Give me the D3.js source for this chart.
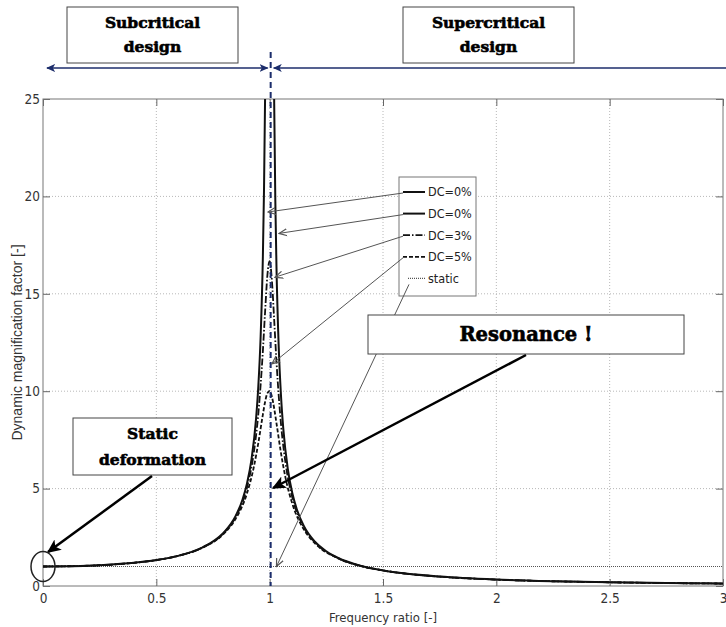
<!DOCTYPE html>
<meta charset="utf-8">
<style>
  body { margin: 0; background: #fff; }
  .tick text { font: 13.5px "Liberation Sans Narrow", "DejaVu Sans Condensed", Arial, sans-serif; fill: #333; }
  .tick line { stroke: #666; }
  .domain { stroke: none; }
  .grid line { stroke: #b8b8b8; stroke-dasharray: 1,2; }
  .axis-label { font: 13px "Liberation Sans Narrow", "DejaVu Sans Condensed", Arial, sans-serif; fill: #333; }
  .ylabel { font: 14px "Liberation Sans", Arial, sans-serif; fill: #333; }
  .legend text { font: 12.5px "Liberation Sans Narrow", "DejaVu Sans Condensed", Arial, sans-serif; fill: #222; }
  .note { font-family: "DejaVu Serif", "Liberation Serif", serif; font-weight: bold; fill: #000; stroke: #000; stroke-width: 0.6px; text-anchor: middle; }
  .box { fill: #fff; stroke: #444; stroke-width: 1; }
</style>
<svg width="726" height="627"></svg>
<script src="https://d3js.org/d3.v7.min.js"></script>
<script>

  // frequency ratio / magnification values
  var undampedLeftX = [0, 0.1, 0.2, 0.3, 0.4, 0.5, 0.6, 0.7, 0.75, 0.8, 0.85, 0.88, 0.9, 0.92, 0.94, 0.95, 0.96, 0.97, 0.975, 0.98, 0.985];
  var undampedLeftY = [1, 1.01, 1.04, 1.10, 1.19, 1.33, 1.56, 1.96, 2.29, 2.78, 3.60, 4.43, 5.26, 6.51, 8.59, 10.26, 12.76, 16.9, 20.3, 25.3, 33.6];

  var undampedRightX = [1.015, 1.02, 1.025, 1.03, 1.04, 1.05, 1.06, 1.08, 1.1, 1.12, 1.15, 1.2, 1.25, 1.3, 1.4, 1.5, 1.6, 1.75, 2, 2.25, 2.5, 2.75, 3];
  var undampedRightY = [33.1, 24.75, 19.75, 16.4, 12.25, 9.76, 8.09, 6.01, 4.76, 3.93, 3.10, 2.27, 1.78, 1.45, 1.04, 0.80, 0.64, 0.485, 0.333, 0.246, 0.19, 0.152, 0.125];

  var dampedX = [0, 0.2, 0.4, 0.5, 0.6, 0.7, 0.8, 0.85, 0.9, 0.93, 0.95, 0.97, 0.98, 0.99, 1, 1.01, 1.02, 1.03, 1.05, 1.07, 1.1, 1.15, 1.2, 1.3, 1.4, 1.5, 1.75, 2, 2.5, 3];
  var dc3Y = [1, 1.04, 1.19, 1.33, 1.56, 1.95, 2.75, 3.54, 5.06, 6.84, 8.85, 12.06, 14.11, 15.96, 16.67, 15.66, 13.64, 11.53, 8.31, 6.31, 4.54, 3.03, 2.24, 1.44, 1.04, 0.80, 0.48, 0.33, 0.19, 0.125];
  var dc5Y = [1, 1.04, 1.19, 1.33, 1.56, 1.95, 2.71, 3.45, 4.76, 6.10, 7.35, 8.80, 9.46, 9.90, 10.0, 9.71, 9.11, 8.36, 6.82, 5.55, 4.22, 2.92, 2.19, 1.43, 1.03, 0.80, 0.48, 0.33, 0.19, 0.125];

  var staticX = [0, 3];
  var staticY = [1, 1];

  var legendNames = ["DC=0%", "DC=0%", "DC=3%", "DC=5%", "static"];
  var xTicks = [0, 0.5, 1, 1.5, 2, 2.5, 3];
  var yTicks = [0, 5, 10, 15, 20, 25];

  var series = [
    {name: legendNames[0], xs: undampedLeftX, ys: undampedLeftY, dash: null, w: 2, c: "#111"},
    {name: legendNames[1], xs: undampedRightX, ys: undampedRightY, dash: null, w: 2, c: "#111"},
    {name: legendNames[2], xs: dampedX, ys: dc3Y, dash: "7,2,1.5,2", w: 1.8, c: "#111"},
    {name: legendNames[3], xs: dampedX, ys: dc5Y, dash: "4,2", w: 1.8, c: "#111"},
    {name: legendNames[4], xs: staticX, ys: staticY, dash: "1,1", w: 1.2, c: "#555"}
  ];

  var svg = d3.select("svg"),
      pLeft = 43, pRight = 723, pTop = 99, pBottom = 586;

  var x = d3.scaleLinear().domain([0, 3]).range([pLeft, pRight]);
  var y = d3.scaleLinear().domain([0, 25]).range([pBottom, pTop]);

  var defs = svg.append("defs");
  defs.append("clipPath").attr("id", "plot")
      .append("rect").attr("x", pLeft).attr("y", pTop).attr("width", pRight - pLeft).attr("height", pBottom - pTop);

  function marker(id, color, size, open) {
    var m = defs.append("marker").attr("id", id)
        .attr("viewBox", "0 -5 10 10").attr("refX", 9).attr("refY", 0)
        .attr("markerUnits", "userSpaceOnUse")
        .attr("markerWidth", size).attr("markerHeight", size)
        .attr("orient", "auto-start-reverse");
    if (open) {
      m.append("path").attr("d", "M0,-4L9,0L0,4").attr("fill", "none").attr("stroke", color).attr("stroke-width", 1.3);
    } else {
      m.append("path").attr("d", "M0,-4.5L10,0L0,4.5L2.5,0Z").attr("fill", color);
    }
  }
  marker("navy", "#1c2d6b", 9, false);
  marker("black", "#000", 14, false);
  marker("gray", "#555", 9, true);

  // grid
  svg.append("g").attr("class", "grid").selectAll("line")
      .data(xTicks.slice(1, -1)).enter().append("line")
      .attr("x1", function(d) { return x(d); }).attr("x2", function(d) { return x(d); })
      .attr("y1", pTop).attr("y2", pBottom);
  svg.append("g").attr("class", "grid").selectAll("line")
      .data(yTicks.slice(1, -1)).enter().append("line")
      .attr("x1", pLeft).attr("x2", pRight)
      .attr("y1", function(d) { return y(d); }).attr("y2", function(d) { return y(d); });

  // axes, matlab style ticks on all four sides
  svg.append("g").attr("transform", "translate(0," + pBottom + ")")
      .call(d3.axisBottom(x).tickValues(xTicks).tickSize(-7).tickPadding(7).tickFormat(d3.format("")));
  svg.append("g").attr("transform", "translate(0," + pTop + ")")
      .call(d3.axisTop(x).tickValues(xTicks).tickSize(-7).tickFormat(""));
  svg.append("g").attr("transform", "translate(" + pLeft + ",0)")
      .call(d3.axisLeft(y).tickValues(yTicks).tickSize(-7).tickPadding(3));
  svg.append("g").attr("transform", "translate(" + pRight + ",0)")
      .call(d3.axisRight(y).tickValues(yTicks).tickSize(-7).tickFormat(""));
  svg.append("rect").attr("x", pLeft).attr("y", pTop).attr("width", pRight - pLeft).attr("height", pBottom - pTop)
      .attr("fill", "none").attr("stroke", "#777");

  svg.append("text").attr("class", "axis-label").attr("x", x(1.5)).attr("y", 622)
      .attr("text-anchor", "middle").text("Frequency ratio [-]");
  svg.append("text").attr("class", "ylabel").attr("transform", "translate(22," + y(12.5) + ") rotate(-90)")
      .attr("text-anchor", "middle").text("Dynamic magnification factor [-]");

  // curves
  var line = d3.line().curve(d3.curveMonotoneX)
      .x(function(d) { return x(d[0]); }).y(function(d) { return y(d[1]); });

  svg.append("g").attr("clip-path", "url(#plot)").selectAll("path")
      .data(series.slice().reverse()).enter().append("path")
      .attr("d", function(s) { return line(d3.zip(s.xs, s.ys)); })
      .attr("fill", "none")
      .attr("stroke", function(s) { return s.c; })
      .attr("stroke-width", function(s) { return s.w; })
      .attr("stroke-dasharray", function(s) { return s.dash; });

  // resonance line and design arrows
  svg.append("line").attr("x1", x(1) + 1).attr("x2", x(1) + 1).attr("y1", 52).attr("y2", pBottom)
      .attr("stroke", "#1c2d6b").attr("stroke-width", 2).attr("stroke-dasharray", "6,4");
  svg.append("line").attr("x1", x(0) + 4).attr("x2", x(1) - 2).attr("y1", 68).attr("y2", 68)
      .attr("stroke", "#1c2d6b").attr("stroke-width", 1.6)
      .attr("marker-start", "url(#navy)").attr("marker-end", "url(#navy)");
  svg.append("line").attr("x1", x(1) + 4).attr("x2", 726).attr("y1", 68).attr("y2", 68)
      .attr("stroke", "#1c2d6b").attr("stroke-width", 1.6)
      .attr("marker-start", "url(#navy)");

  function noteBox(x0, y0, x1, y1, lines, size, lineGap) {
    svg.append("rect").attr("class", "box")
        .attr("x", x0).attr("y", y0).attr("width", x1 - x0).attr("height", y1 - y0);
    var cy = (y0 + y1) / 2 - (lines.length - 1) * lineGap / 2;
    lines.forEach(function(t, i) {
      svg.append("text").attr("class", "note").style("font-size", size + "px")
          .attr("x", (x0 + x1) / 2).attr("y", cy + i * lineGap).attr("dy", "0.35em").text(t);
    });
  }
  noteBox(67, 7, 238, 63, ["Subcritical", "design"], 15.5, 24);
  noteBox(403, 7, 574, 63, ["Supercritical", "design"], 15.5, 24);

  // legend
  var lg = svg.append("g").attr("class", "legend");
  lg.append("rect").attr("x", 399).attr("y", 177).attr("width", 77).attr("height", 119)
      .attr("fill", "#fff").attr("stroke", "#777");
  var rowY = function(i) { return 192 + i * 21.6; };
  series.forEach(function(s, i) {
    lg.append("line").attr("x1", i === 4 ? 408 : 403).attr("x2", 425).attr("y1", rowY(i)).attr("y2", rowY(i))
        .attr("stroke", s.c).attr("stroke-width", s.w).attr("stroke-dasharray", s.dash);
    lg.append("text").attr("x", 428).attr("y", rowY(i)).attr("dy", "0.35em").text(s.name);
  });

  // leaders from legend entries to the curves
  var leaders = [[0.9925, 19.2], [1.041, 18.1], [1.023, 15.85], [1.01, 11.4], [1.03, 1.0]];
  leaders.forEach(function(p, i) {
    svg.append("line").attr("x1", i === 4 ? 409 : 403).attr("y1", rowY(i) + (i === 4 ? 6 : 1))
        .attr("x2", x(p[0])).attr("y2", y(p[1]))
        .attr("stroke", "#555").attr("stroke-width", 1)
        .attr("marker-end", "url(#gray)");
  });

  // static deformation note
  noteBox(73, 418, 232, 475, ["Static", "deformation"], 15.5, 26);
  svg.append("line").attr("x1", 152).attr("y1", 476).attr("x2", x(0.022)).attr("y2", y(1.74))
      .attr("stroke", "#000").attr("stroke-width", 2.5).attr("marker-end", "url(#black)");
  svg.append("ellipse").attr("cx", x(0)).attr("cy", y(1)).attr("rx", 12).attr("ry", 15)
      .attr("fill", "none").attr("stroke", "#222").attr("stroke-width", 1.5);

  // resonance note
  noteBox(368, 315, 684, 354, ["Resonance !"], 19.5, 0);
  svg.append("line").attr("x1", 526).attr("y1", 355).attr("x2", x(1.015)).attr("y2", y(5.03))
      .attr("stroke", "#000").attr("stroke-width", 2.5).attr("marker-end", "url(#black)");

</script>
